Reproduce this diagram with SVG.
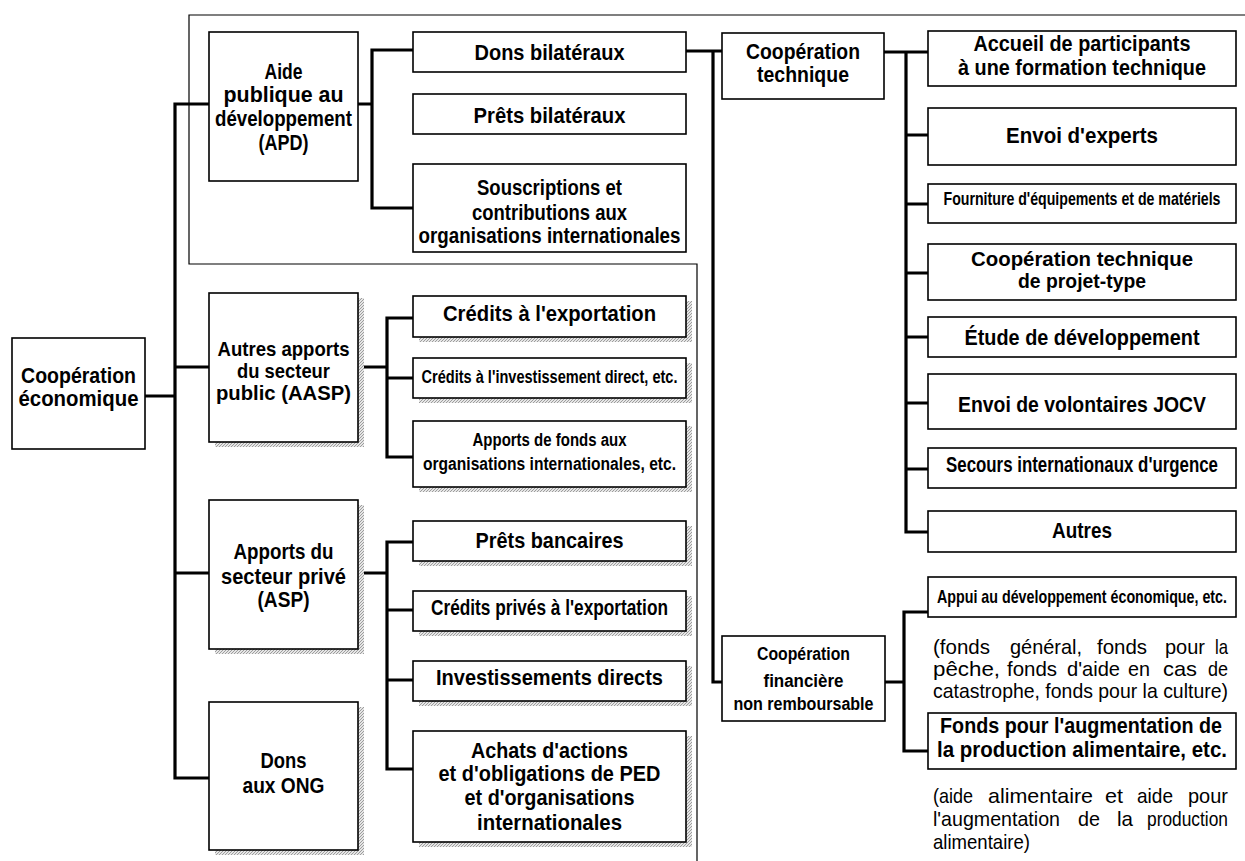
<svg xmlns="http://www.w3.org/2000/svg" width="1245" height="861" viewBox="0 0 1245 861">
<defs>
<pattern id="hatch" width="3" height="3" patternUnits="userSpaceOnUse">
<rect width="3" height="3" fill="#e6e6e6"/>
<path d="M0,3 L3,0" stroke="#8a8a8a" stroke-width="0.8"/>
</pattern>
</defs>
<style>
.box{fill:#fff;stroke:#000;stroke-width:1.6}
.sh{fill:url(#hatch);stroke:none}
.conn{stroke:#000;stroke-width:3.2;fill:none;stroke-linecap:square}
.frame{stroke:#000;stroke-width:1.2;fill:none}
.t{font-family:"Liberation Sans",Arial,sans-serif;font-weight:bold;font-size:22px;fill:#000;text-anchor:middle}
.m{font-size:21px}
.a{font-size:20px}
.s{font-size:19px}
.xs{font-size:18px}
.n{font-family:"Liberation Sans",Arial,sans-serif;font-weight:normal;font-size:21px;fill:#000}
</style>
<rect width="1245" height="861" fill="#fff"/>
<polyline class="frame" points="697,861 697,264 189,264 189,15 1245,15"/>
<g id="connectors">
<path class="conn" d="M145,396 H175 M175,104 V778 M175,104 H209 M175,367 H209 M175,573 H209 M175,778 H209"/>
<path class="conn" d="M358,104 H372 M372,50 V208 M372,50 H413 M372,208 H413"/>
<path class="conn" d="M358,367 H387 M387,318 V457 M387,318 H413 M387,378 H413 M387,457 H413"/>
<path class="conn" d="M358,573 H387 M387,542 V769 M387,542 H413 M387,610 H413 M387,680 H413 M387,769 H413"/>
<path class="conn" d="M686,51 H722 M713,51 V682 H722"/>
<path class="conn" d="M884,52 H928 M906,52 V532 M906,135 H928 M906,204 H928 M906,273 H928 M906,337 H928 M906,403 H928 M906,469 H928 M906,532 H928"/>
<path class="conn" d="M885,682 H904 M904,612 V751 M904,612 H928 M904,751 H928"/>
</g>
<g id="n-econ">
<rect class="box" x="12" y="338" width="133" height="111"/>
<text class="t" transform="translate(78.5,383) scale(0.78,1)" textLength="147.4" lengthAdjust="spacingAndGlyphs">Coopération</text>
<text class="t" transform="translate(78.5,406) scale(0.78,1)" textLength="153.8" lengthAdjust="spacingAndGlyphs">économique</text>
</g>
<g id="n-apd">
<rect class="box" x="209" y="32" width="149" height="149"/>
<text class="t" transform="translate(283.5,79) scale(0.78,1)" textLength="48.7" lengthAdjust="spacingAndGlyphs">Aide</text>
<text class="t" transform="translate(283.5,102) scale(0.78,1)" textLength="153.8" lengthAdjust="spacingAndGlyphs">publique au</text>
<text class="t" transform="translate(283.5,126) scale(0.78,1)" textLength="175.6" lengthAdjust="spacingAndGlyphs">développement</text>
<text class="t" transform="translate(283.5,150) scale(0.78,1)" textLength="64.1" lengthAdjust="spacingAndGlyphs">(APD)</text>
</g>
<g id="n-aasp">
<rect class="sh" x="215" y="298" width="149" height="149"/>
<rect class="box" x="209" y="293" width="149" height="149"/>
<text class="t a" transform="translate(283.5,356) scale(0.78,1)" textLength="169.2" lengthAdjust="spacingAndGlyphs">Autres apports</text>
<text class="t a" transform="translate(283.5,378) scale(0.78,1)" textLength="119.2" lengthAdjust="spacingAndGlyphs">du secteur</text>
<text class="t a" transform="translate(283.5,400) scale(0.78,1)" textLength="173.1" lengthAdjust="spacingAndGlyphs">public (AASP)</text>
</g>
<g id="n-asp">
<rect class="sh" x="215" y="505" width="149" height="149"/>
<rect class="box" x="209" y="500" width="149" height="149"/>
<text class="t" transform="translate(283.5,559) scale(0.78,1)" textLength="128.2" lengthAdjust="spacingAndGlyphs">Apports du</text>
<text class="t" transform="translate(283.5,584) scale(0.78,1)" textLength="160.3" lengthAdjust="spacingAndGlyphs">secteur privé</text>
<text class="t" transform="translate(283.5,607) scale(0.78,1)" textLength="66.7" lengthAdjust="spacingAndGlyphs">(ASP)</text>
</g>
<g id="n-ong">
<rect class="sh" x="215" y="707" width="149" height="148"/>
<rect class="box" x="209" y="702" width="149" height="148"/>
<text class="t" transform="translate(283.5,768) scale(0.78,1)" textLength="59" lengthAdjust="spacingAndGlyphs">Dons</text>
<text class="t" transform="translate(283.5,793) scale(0.78,1)" textLength="105.1" lengthAdjust="spacingAndGlyphs">aux ONG</text>
</g>
<g id="n-dons">
<rect class="box" x="413" y="32" width="273" height="40"/>
<text class="t" transform="translate(549.5,60) scale(0.78,1)" textLength="192.3" lengthAdjust="spacingAndGlyphs">Dons bilatéraux</text>
</g>
<g id="n-prets">
<rect class="box" x="413" y="94" width="273" height="40"/>
<text class="t" transform="translate(549.5,123) scale(0.78,1)" textLength="194.9" lengthAdjust="spacingAndGlyphs">Prêts bilatéraux</text>
</g>
<g id="n-souscr">
<rect class="box" x="413" y="164" width="273" height="88"/>
<text class="t" transform="translate(549.5,195) scale(0.78,1)" textLength="185.9" lengthAdjust="spacingAndGlyphs">Souscriptions et</text>
<text class="t" transform="translate(549.5,220) scale(0.78,1)" textLength="198.7" lengthAdjust="spacingAndGlyphs">contributions aux</text>
<text class="t" transform="translate(549.5,243) scale(0.78,1)" textLength="335.9" lengthAdjust="spacingAndGlyphs">organisations internationales</text>
</g>
<g id="n-credexp">
<rect class="sh" x="419" y="301" width="273" height="41"/>
<rect class="box" x="413" y="296" width="273" height="41"/>
<text class="t" transform="translate(549.5,321) scale(0.78,1)" textLength="273.1" lengthAdjust="spacingAndGlyphs">Crédits à l'exportation</text>
</g>
<g id="n-credinv">
<rect class="sh" x="419" y="363" width="273" height="40"/>
<rect class="box" x="413" y="358" width="273" height="40"/>
<text class="t s" transform="translate(549.5,383) scale(0.78,1)" textLength="328.2" lengthAdjust="spacingAndGlyphs">Crédits à l'investissement direct, etc.</text>
</g>
<g id="n-apports">
<rect class="sh" x="419" y="426" width="273" height="66"/>
<rect class="box" x="413" y="421" width="273" height="66"/>
<text class="t s" transform="translate(549.5,446) scale(0.78,1)" textLength="197.4" lengthAdjust="spacingAndGlyphs">Apports de fonds aux</text>
<text class="t s" transform="translate(549.5,470) scale(0.78,1)" textLength="324.4" lengthAdjust="spacingAndGlyphs">organisations internationales, etc.</text>
</g>
<g id="n-pretsb">
<rect class="sh" x="419" y="526" width="273" height="40"/>
<rect class="box" x="413" y="521" width="273" height="40"/>
<text class="t" transform="translate(549.5,548) scale(0.78,1)" textLength="189.7" lengthAdjust="spacingAndGlyphs">Prêts bancaires</text>
</g>
<g id="n-credpriv">
<rect class="sh" x="419" y="596" width="273" height="40"/>
<rect class="box" x="413" y="591" width="273" height="40"/>
<text class="t" transform="translate(549.5,615) scale(0.78,1)" textLength="303.8" lengthAdjust="spacingAndGlyphs">Crédits privés à l'exportation</text>
</g>
<g id="n-invest">
<rect class="sh" x="419" y="666" width="273" height="40"/>
<rect class="box" x="413" y="661" width="273" height="40"/>
<text class="t" transform="translate(549.5,685) scale(0.78,1)" textLength="291" lengthAdjust="spacingAndGlyphs">Investissements directs</text>
</g>
<g id="n-achats">
<rect class="sh" x="419" y="736" width="273" height="111"/>
<rect class="box" x="413" y="731" width="273" height="111"/>
<text class="t" transform="translate(549.5,758) scale(0.78,1)" textLength="201.3" lengthAdjust="spacingAndGlyphs">Achats d'actions</text>
<text class="t" transform="translate(549.5,781) scale(0.78,1)" textLength="284.6" lengthAdjust="spacingAndGlyphs">et d'obligations de PED</text>
<text class="t" transform="translate(549.5,805) scale(0.78,1)" textLength="217.9" lengthAdjust="spacingAndGlyphs">et d'organisations</text>
<text class="t" transform="translate(549.5,830) scale(0.78,1)" textLength="185.9" lengthAdjust="spacingAndGlyphs">internationales</text>
</g>
<g id="n-tech">
<rect class="box" x="722" y="33" width="162" height="66"/>
<text class="t" transform="translate(803,59) scale(0.78,1)" textLength="146.2" lengthAdjust="spacingAndGlyphs">Coopération</text>
<text class="t" transform="translate(803,82) scale(0.78,1)" textLength="117.9" lengthAdjust="spacingAndGlyphs">technique</text>
</g>
<g id="n-fin">
<rect class="box" x="722" y="636" width="163" height="85"/>
<text class="t s" transform="translate(803.5,660) scale(0.78,1)" textLength="119.2" lengthAdjust="spacingAndGlyphs">Coopération</text>
<text class="t s" transform="translate(803.5,687) scale(0.78,1)" textLength="102.6" lengthAdjust="spacingAndGlyphs">financière</text>
<text class="t s" transform="translate(803.5,710) scale(0.78,1)" textLength="179.5" lengthAdjust="spacingAndGlyphs">non remboursable</text>
</g>
<g id="n-accueil">
<rect class="box" x="928" y="31" width="308" height="55"/>
<text class="t" transform="translate(1082,51) scale(0.78,1)" textLength="278.2" lengthAdjust="spacingAndGlyphs">Accueil de participants</text>
<text class="t" transform="translate(1082,75) scale(0.78,1)" textLength="317.9" lengthAdjust="spacingAndGlyphs">à une formation technique</text>
</g>
<g id="n-experts">
<rect class="box" x="928" y="108" width="308" height="57"/>
<text class="t" transform="translate(1082,143) scale(0.78,1)" textLength="194.9" lengthAdjust="spacingAndGlyphs">Envoi d'experts</text>
</g>
<g id="n-fourn">
<rect class="box" x="928" y="184" width="308" height="39"/>
<text class="t xs" transform="translate(1082,205) scale(0.78,1)" textLength="355.1" lengthAdjust="spacingAndGlyphs">Fourniture d'équipements et de matériels</text>
</g>
<g id="n-projet">
<rect class="box" x="928" y="244" width="308" height="56"/>
<text class="t m" transform="translate(1082,266) scale(0.78,1)" textLength="284.6" lengthAdjust="spacingAndGlyphs">Coopération technique</text>
<text class="t m" transform="translate(1082,288) scale(0.78,1)" textLength="164.1" lengthAdjust="spacingAndGlyphs">de projet-type</text>
</g>
<g id="n-etude">
<rect class="box" x="928" y="317" width="308" height="40"/>
<text class="t" transform="translate(1082,345) scale(0.78,1)" textLength="301.3" lengthAdjust="spacingAndGlyphs">Étude de développement</text>
</g>
<g id="n-jocv">
<rect class="box" x="928" y="374" width="308" height="55"/>
<text class="t" transform="translate(1082,412) scale(0.78,1)" textLength="317.9" lengthAdjust="spacingAndGlyphs">Envoi de volontaires JOCV</text>
</g>
<g id="n-secours">
<rect class="box" x="928" y="448" width="308" height="40"/>
<text class="t" transform="translate(1082,472) scale(0.78,1)" textLength="348.7" lengthAdjust="spacingAndGlyphs">Secours internationaux d'urgence</text>
</g>
<g id="n-autres">
<rect class="box" x="928" y="511" width="308" height="41"/>
<text class="t" transform="translate(1082,538) scale(0.78,1)" textLength="76.9" lengthAdjust="spacingAndGlyphs">Autres</text>
</g>
<g id="n-appui">
<rect class="box" x="928" y="577" width="308" height="40"/>
<text class="t xs" transform="translate(1082,603) scale(0.78,1)" textLength="371.8" lengthAdjust="spacingAndGlyphs">Appui au développement économique, etc.</text>
</g>
<g id="note-appui">
<text class="n" x="933" y="654" textLength="57" lengthAdjust="spacingAndGlyphs">(fonds</text>
<text class="n" x="1010" y="654" textLength="72" lengthAdjust="spacingAndGlyphs">général,</text>
<text class="n" x="1097" y="654" textLength="50" lengthAdjust="spacingAndGlyphs">fonds</text>
<text class="n" x="1165" y="654" textLength="40" lengthAdjust="spacingAndGlyphs">pour</text>
<text class="n" x="1215" y="654" textLength="13" lengthAdjust="spacingAndGlyphs">la</text>
<text class="n" x="933" y="676" textLength="67" lengthAdjust="spacingAndGlyphs">pêche,</text>
<text class="n" x="1007" y="676" textLength="50" lengthAdjust="spacingAndGlyphs">fonds</text>
<text class="n" x="1067" y="676" textLength="53" lengthAdjust="spacingAndGlyphs">d'aide</text>
<text class="n" x="1128" y="676" textLength="22" lengthAdjust="spacingAndGlyphs">en</text>
<text class="n" x="1163" y="676" textLength="34" lengthAdjust="spacingAndGlyphs">cas</text>
<text class="n" x="1208" y="676" textLength="20" lengthAdjust="spacingAndGlyphs">de</text>
<text class="n" transform="translate(933,698) scale(0.85,1)" textLength="347" lengthAdjust="spacingAndGlyphs">catastrophe, fonds pour la culture)</text>
</g>
<g id="n-fondsal">
<rect class="box" x="928" y="713" width="308" height="56"/>
<text class="t" transform="translate(1081,733) scale(0.78,1)" textLength="361.5" lengthAdjust="spacingAndGlyphs">Fonds pour l'augmentation de</text>
<text class="t" transform="translate(1082,757) scale(0.78,1)" textLength="371.8" lengthAdjust="spacingAndGlyphs">la production alimentaire, etc.</text>
</g>
<g id="note-fondsal">
<text class="n" x="933" y="803" textLength="40" lengthAdjust="spacingAndGlyphs">(aide</text>
<text class="n" x="988" y="803" textLength="105" lengthAdjust="spacingAndGlyphs">alimentaire</text>
<text class="n" x="1105" y="803" textLength="18" lengthAdjust="spacingAndGlyphs">et</text>
<text class="n" x="1137" y="803" textLength="36" lengthAdjust="spacingAndGlyphs">aide</text>
<text class="n" x="1188" y="803" textLength="40" lengthAdjust="spacingAndGlyphs">pour</text>
<text class="n" x="933" y="826" textLength="127" lengthAdjust="spacingAndGlyphs">l'augmentation</text>
<text class="n" x="1078" y="826" textLength="22" lengthAdjust="spacingAndGlyphs">de</text>
<text class="n" x="1117" y="826" textLength="16" lengthAdjust="spacingAndGlyphs">la</text>
<text class="n" x="1147" y="826" textLength="81" lengthAdjust="spacingAndGlyphs">production</text>
<text class="n" x="933" y="849" textLength="97" lengthAdjust="spacingAndGlyphs">alimentaire)</text>
</g>
</svg>
